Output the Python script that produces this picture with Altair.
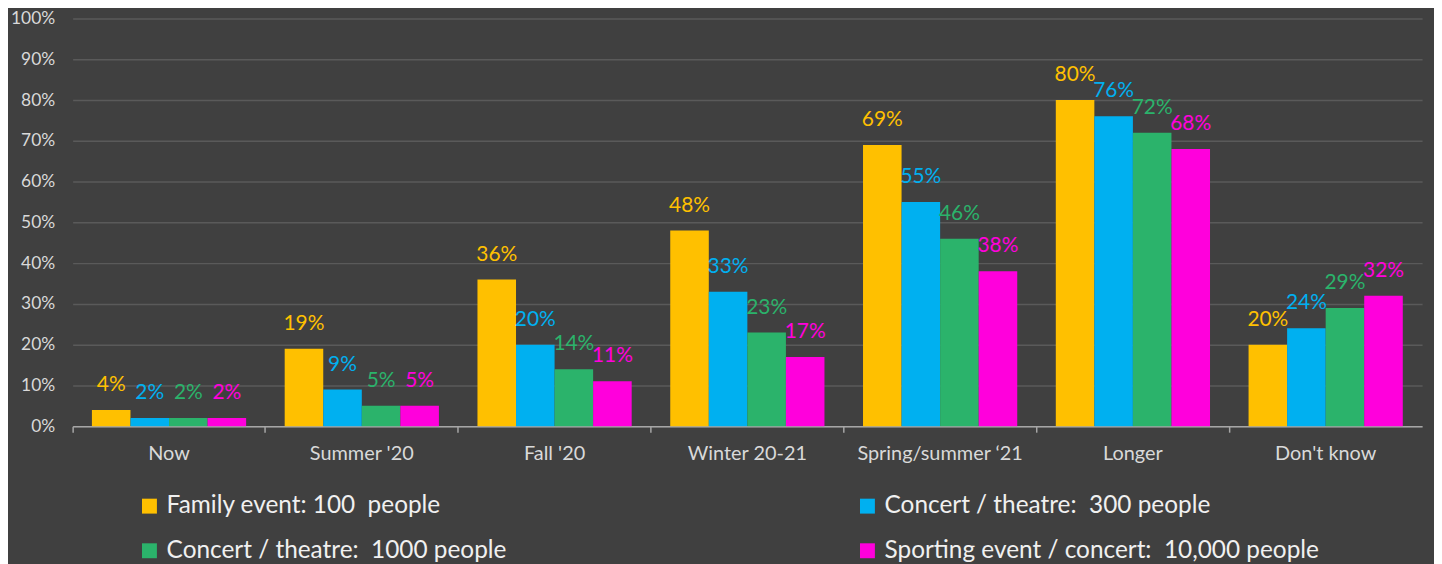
import altair as alt
import pandas as pd

categories = ["Now", "Summer '20", "Fall '20", "Winter 20-21", "Spring/summer \u201821", "Longer", "Don't know"]
series = [
    "Family event: 100\u00a0 people",
    "Concert / theatre:\u00a0 300 people",
    "Concert / theatre:\u00a0 1000 people",
    "Sporting event / concert:\u00a0 10,000 people",
]
colors = ["#FFC000", "#00B0F0", "#2BB36B", "#FF00DC"]
family_100 = [4, 19, 36, 48, 69, 80, 20]
concert_300 = [2, 9, 20, 33, 55, 76, 24]
concert_1000 = [2, 5, 14, 23, 46, 72, 29]
sporting_10000 = [2, 5, 11, 17, 38, 68, 32]

values = [family_100, concert_300, concert_1000, sporting_10000]
rows = []
for s, vals in zip(series, values):
    for c, v in zip(categories, vals):
        rows.append({"category": c, "series": s, "value": v, "label": f"{v}%"})
df = pd.DataFrame(rows)

FONT = "Lato"
TXT = "#D9D9D9"

x = alt.X("category:N", sort=categories, title=None,
          scale=alt.Scale(paddingInner=0, paddingOuter=0),
          axis=alt.Axis(labelAngle=0, labelFontSize=20, labelColor=TXT, labelFont=FONT,
                        labelPadding=11, tickSize=6, tickColor="#A6A6A6", tickWidth=1.5,
                        domainColor="#A6A6A6", domainWidth=1.5, bandPosition=0, grid=False))
xo = alt.XOffset("series:N", sort=series, scale=alt.Scale(paddingInner=0, paddingOuter=0.5))
y = alt.Y("value:Q", title=None,
          scale=alt.Scale(domain=[0, 100], nice=False),
          axis=alt.Axis(values=list(range(0, 101, 10)), labelExpr="datum.value + '%'",
                        labelFontSize=17.5, labelColor=TXT, labelFont=FONT, labelPadding=18,
                        ticks=False, domain=False, gridColor="#5A5A5A", gridWidth=1.5))
color = alt.Color("series:N", sort=series,
                  scale=alt.Scale(domain=series, range=colors),
                  legend=alt.Legend(title=None, orient="none", legendX=65, legendY=478,
                                    direction="horizontal", columns=2, columnPadding=350,
                                    rowPadding=20, symbolType="square", symbolSize=225,
                                    symbolStrokeWidth=0, labelFontSize=24.5, labelColor="#F0F0F0",
                                    labelFont=FONT, labelLimit=800, labelOffset=5))

bars = alt.Chart(df).mark_bar().encode(x=x, xOffset=xo, y=y, color=color)
labels = alt.Chart(df).mark_text(baseline="alphabetic", dy=-19, fontSize=21, font=FONT).encode(
    x=x, xOffset=xo, y=y, text="label:N",
    color=alt.Color("series:N", sort=series, scale=alt.Scale(domain=series, range=colors), legend=None))

chart = (bars + labels).properties(
    width=1357, height=410, background="#404040",
    padding={"left": 65, "top": 9, "right": 12, "bottom": 137},
    autosize=alt.AutoSizeParams(type="none"),
).configure_view(stroke=None)

chart.save("out.html", embed_options={"renderer": "svg", "actions": False})
